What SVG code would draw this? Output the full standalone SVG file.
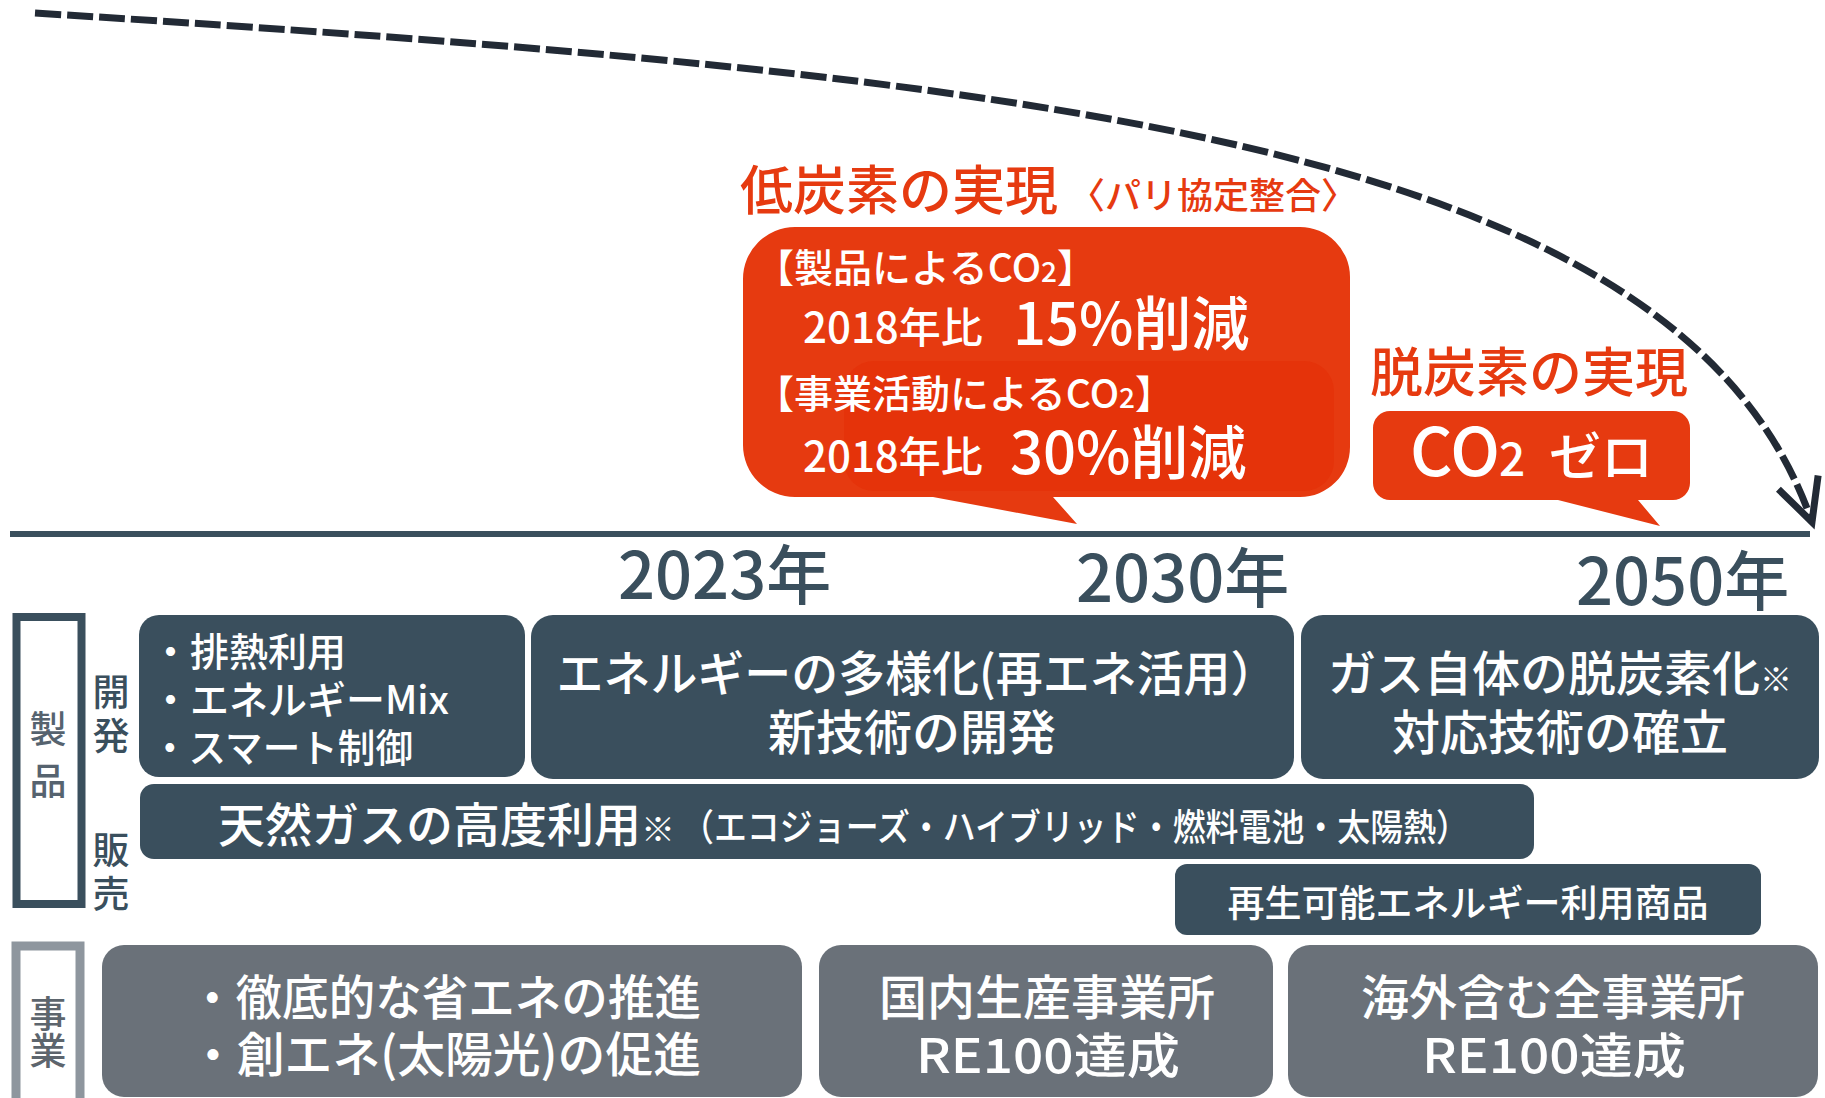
<svg xmlns="http://www.w3.org/2000/svg" width="1825" height="1098" viewBox="0 0 1825 1098">
  <style>
    text { font-family: "Noto Sans CJK JP", "Noto Sans", sans-serif; font-weight: 500; }
    .w { fill: #ffffff; }
    .red { fill: #e63a10; }
    .slate { fill: #3a4f5d; }
    .grey { fill: #6a7179; }
    .yr { fill: #3a4f5d; font-size: 65px; }
    .vl { fill: #3a4f5d; font-size: 37px; writing-mode: vertical-rl; }
    .mid { text-anchor: middle; }
  </style>
  <defs>
    <marker id="chev" markerUnits="userSpaceOnUse" markerWidth="60" markerHeight="60" refX="0" refY="0" orient="auto" overflow="visible">
      <path d="M-42,-21 L0,0 L-42,21" fill="none" stroke="#222a35" stroke-width="7"/>
    </marker>
  </defs>
  <rect width="1825" height="1098" fill="#ffffff"/>

  <g id="connectors">
    <path d="M35,13 C1035,76 1680,140 1812,522" fill="none" stroke="#222a35" stroke-width="7" stroke-dasharray="26 6" marker-end="url(#chev)"/>
    <line x1="10" y1="534" x2="1810" y2="534" stroke="#3a4f5d" stroke-width="6"/>
  </g>

  <g id="low-carbon">
    <text class="red" x="740" y="210" font-size="53">低炭素の実現</text>
    <text class="red" x="1069" y="209" font-size="36">〈パリ協定整合〉</text>
    <path class="red" d="M795,227 H1300 A50,50 0 0 1 1350,277 V447 A50,50 0 0 1 1300,497 H1053 L1077,524 L933,497 H795 A52,52 0 0 1 743,445 V279 A52,52 0 0 1 795,227 Z"/>
    <rect x="844" y="361" width="490" height="130" rx="30" fill="#e5330a"/>
    <text class="w" x="755" y="282" font-size="39">【製品によるCO<tspan font-size="28">2</tspan>】</text>
    <text class="w" x="803" y="343" font-size="42">2018年比</text>
    <text class="w" x="1013" y="345" font-size="58">15%削減</text>
    <text class="w" x="755" y="408" font-size="39">【事業活動によるCO<tspan font-size="28">2</tspan>】</text>
    <text class="w" x="803" y="472" font-size="42">2018年比</text>
    <text class="w" x="1010" y="474" font-size="58">30%削減</text>
  </g>

  <g id="decarbon">
    <text class="red" x="1370" y="392" font-size="53">脱炭素の実現</text>
    <path class="red" d="M1390,411 H1673 A17,17 0 0 1 1690,428 V483 A17,17 0 0 1 1673,500 H1638 L1660,526 L1558,500 H1390 A17,17 0 0 1 1373,483 V428 A17,17 0 0 1 1390,411 Z"/>
    <text class="w" x="1410" y="476" font-size="66">CO<tspan x="1499" font-size="46">2</tspan><tspan x="1549" font-size="52">ゼロ</tspan></text>
  </g>

  <g id="years">
    <text class="yr" x="618" y="599">2023年</text>
    <text class="yr" x="1076" y="602">2030年</text>
    <text class="yr" x="1576" y="605">2050年</text>
  </g>

  <g id="label-product">
    <rect x="16.5" y="617" width="65" height="287" fill="#ffffff" stroke="#3a4f5d" stroke-width="8"/>
    <text class="vl" x="48" y="710" letter-spacing="15" style="fill:#56636f">製品</text>
  </g>
  <g id="label-dev">
    <text class="vl" x="111" y="673" letter-spacing="7">開発</text>
  </g>
  <g id="label-sales">
    <text class="vl" x="111" y="831" letter-spacing="7">販売</text>
  </g>
  <g id="label-business">
    <rect x="16" y="946" width="64" height="180" fill="#ffffff" stroke="#8e969e" stroke-width="9"/>
    <text class="vl" x="48" y="995" letter-spacing="0" style="fill:#5d656d">事業</text>
  </g>

  <g id="box-a">
    <rect class="slate" x="139" y="615" width="386" height="162" rx="20"/>
    <text class="w" x="151" y="666" font-size="39">・排熱利用</text>
    <text class="w" x="151" y="714" font-size="39">・エネルギーMix</text>
    <text class="w" x="151" y="762" font-size="39" textLength="262" lengthAdjust="spacingAndGlyphs">・スマート制御</text>
  </g>
  <g id="box-b">
    <rect class="slate" x="531" y="615" width="763" height="164" rx="22"/>
    <text class="w mid" x="917" y="691" font-size="48" textLength="721" lengthAdjust="spacingAndGlyphs">エネルギーの多様化(再エネ活用）</text>
    <text class="w mid" x="912" y="750" font-size="48">新技術の開発</text>
  </g>
  <g id="box-c">
    <rect class="slate" x="1301" y="615" width="518" height="164" rx="22"/>
    <text class="w mid" x="1560" y="691" font-size="48">ガス自体の脱炭素化<tspan font-size="32">※</tspan></text>
    <text class="w mid" x="1560" y="750" font-size="48">対応技術の確立</text>
  </g>
  <g id="box-d">
    <rect class="slate" x="140" y="784" width="1394" height="75" rx="14"/>
    <text class="w" x="218" y="842" font-size="47">天然ガスの高度利用<tspan font-size="34">※</tspan></text>
    <text class="w" x="681" y="841" font-size="37" textLength="788" lengthAdjust="spacingAndGlyphs">（エコジョーズ・ハイブリッド・燃料電池・太陽熱）</text>
  </g>
  <g id="box-e">
    <rect class="slate" x="1175" y="864" width="586" height="71" rx="12"/>
    <text class="w mid" x="1468" y="917" font-size="37">再生可能エネルギー利用商品</text>
  </g>

  <g id="box-f">
    <rect class="grey" x="102" y="945" width="700" height="152" rx="22"/>
    <text class="w" x="189" y="1015" font-size="48" textLength="512" lengthAdjust="spacingAndGlyphs">・徹底的な省エネの推進</text>
    <text class="w" x="189" y="1072" font-size="48" textLength="512" lengthAdjust="spacingAndGlyphs">・創エネ(太陽光)の促進</text>
  </g>
  <g id="box-g">
    <rect class="grey" x="819" y="945" width="454" height="152" rx="22"/>
    <text class="w mid" x="1047" y="1015" font-size="48">国内生産事業所</text>
    <text class="w mid" x="1048" y="1073" font-size="48" textLength="264" lengthAdjust="spacingAndGlyphs">RE100達成</text>
  </g>
  <g id="box-h">
    <rect class="grey" x="1288" y="945" width="530" height="152" rx="22"/>
    <text class="w mid" x="1553" y="1015" font-size="48">海外含む全事業所</text>
    <text class="w mid" x="1554" y="1073" font-size="48" textLength="264" lengthAdjust="spacingAndGlyphs">RE100達成</text>
  </g>
</svg>
